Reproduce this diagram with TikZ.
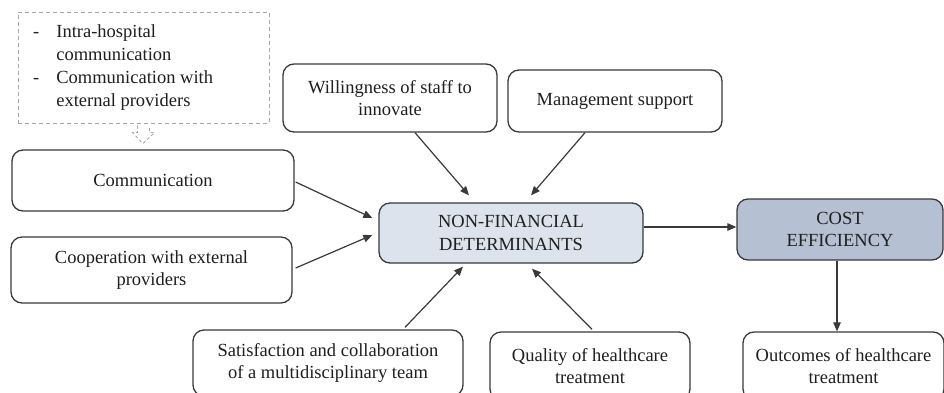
\documentclass[tikz,border=0pt]{standalone}
\usepackage{fontspec}
\setmainfont{Liberation Serif}
\usetikzlibrary{arrows.meta,calc}
\definecolor{lineC}{HTML}{3A3A3A}
\definecolor{nfdFill}{HTML}{DDE3EC}
\definecolor{costFill}{HTML}{B5C0D2}
\definecolor{dashC}{HTML}{A8A8A8}
\tikzset{
  box/.style={draw=lineC, line width=1.3pt, rounded corners=11pt, align=center,
    inner sep=0pt, font=\fontsize{18.5}{22.5}\selectfont, text=black!88},
  dashbox/.style={draw=dashC, line width=1pt, dash pattern=on 4pt off 3pt},
  arr/.style={draw=lineC, line width=1.2pt, -{Triangle[length=9pt,width=7.5pt]}},
  listtext/.style={inner sep=0pt, anchor=west, font=\fontsize{18.5}{22.7}\selectfont, text=black!88}
}
\begin{document}
\begin{tikzpicture}[x=1pt,y=-1pt]
\clip (0,0) rectangle (944,392);
\fill[white] (0,0) rectangle (944,392);
% dashed list box
\node[dashbox, minimum width=251pt, minimum height=111pt] (list) at (143.5,67.5) {};
\node[listtext] (listtxt) at (33,67.5) {\begin{tabular}{@{}l@{\hspace{17pt}}l@{}}
- & Intra-hospital\\
  & communication\\
- & Communication with\\
  & external providers
\end{tabular}};
% boxes
\node[box, minimum width=282pt, minimum height=61pt] (comm) at (153,180.5) {Communication};
\node[box, minimum width=281pt, minimum height=66pt] (coop) at (151.5,270) {Cooperation with external\\providers};
\node[box, minimum width=214pt, minimum height=68pt] (will) at (390,98) {Willingness of staff to\\innovate};
\node[box, minimum width=214pt, minimum height=62pt] (mgmt) at (615,101) {Management support};
\node[box, fill=nfdFill, minimum width=264pt, minimum height=60pt] (nfd) at (511,233) {NON-FINANCIAL\\DETERMINANTS};
\node[box, fill=costFill, minimum width=206pt, minimum height=61pt] (cost) at (840,229.5) {COST\\EFFICIENCY};
\node[box, minimum width=270pt, minimum height=66pt] (sat) at (328,363) {Satisfaction and collaboration\\of a multidisciplinary team};
\node[box, minimum width=200pt, minimum height=68pt] (qual) at (590,366) {Quality of healthcare\\treatment};
\node[box, minimum width=201pt, minimum height=68pt] (outc) at (843.5,366) {Outcomes of healthcare\\treatment};
% dashed hollow arrow from list to communication
\draw[dashC, line width=0.9pt, dash pattern=on 3pt off 2.5pt]
  ($(list.south)+(-6,2)$) -- ($(list.south)+(-6,9)$) -- ($(list.south)+(-11,9)$)
  -- ($(list.south)+(-0.5,20)$) -- ($(list.south)+(11,9)$) -- ($(list.south)+(6,9)$) -- ($(list.south)+(6,2)$);
% connectors
\draw[arr] ($(comm.east)+(1,1.5)$) -- ($(nfd.west)+(-6,-15)$);
\draw[arr] ($(coop.east)+(3,-2)$) -- ($(nfd.west)+(-6,2)$);
\draw[arr] ($(will.south)+(25,0)$) -- ($(nfd.north)+(-42,-7)$);
\draw[arr] ($(mgmt.south)+(-30,0)$) -- ($(nfd.north)+(20,-7)$);
\draw[arr] ($(sat.north)+(77,-2)$) -- ($(nfd.south)+(-48,3)$);
\draw[arr] ($(qual.north)+(2,-2)$) -- ($(nfd.south)+(21,5)$);
\draw[arr] ([yshift=6pt]nfd.east) -- ([yshift=2.5pt]cost.west);
\draw[arr] ([xshift=-3pt]cost.south) -- ([xshift=-6.5pt]outc.north);
\end{tikzpicture}
\end{document}
